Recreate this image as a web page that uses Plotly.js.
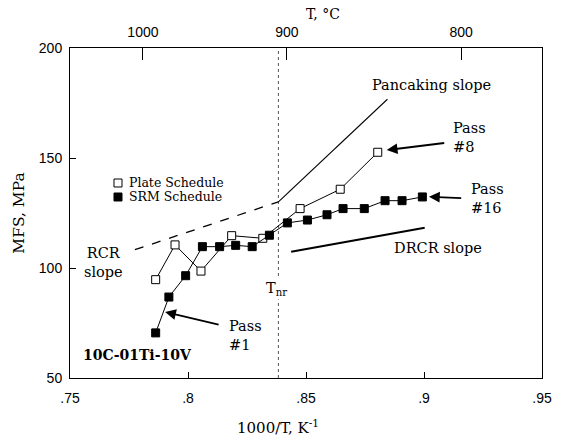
<!DOCTYPE html>
<html>
<head>
<meta charset="utf-8">
<script src="https://cdn.plot.ly/plotly-3.0.1.min.js"></script>
<style>html,body{margin:0;padding:0;background:#fff;}#chart{width:566px;height:438px;}</style>
</head>
<body>
<div id="chart"></div>
<script>
// Data
const plateX = [0.7863, 0.7945, 0.8055, 0.8185, 0.8317, 0.8475, 0.8645, 0.8804];
const plateY = [94.7, 110.5, 98.6, 114.7, 113.5, 127.0, 135.8, 152.6];
const srmX = [0.7863, 0.7919, 0.7990, 0.8061, 0.8134, 0.8202, 0.8272, 0.8345, 0.8421, 0.8506, 0.8589, 0.8657, 0.8747, 0.8835, 0.8907, 0.8993];
const srmY = [70.5, 86.8, 96.5, 109.7, 109.7, 110.3, 109.7, 114.9, 120.5, 121.8, 124.2, 127.0, 127.0, 130.6, 130.6, 132.3];
const rcrX = [0.7775, 0.8383];
const rcrY = [108.3, 130.1];
const pancX = [0.8383, 0.8845];
const pancY = [130.1, 176.7];
const drcrX = [0.8437, 0.9003];
const drcrY = [107.4, 118.3];
const tnrX = [0.8383, 0.8383];
const tnrY = [50, 200];
const bottomTickVals = [0.75, 0.8, 0.85, 0.9, 0.95];
const bottomTickText = ['.75', '.8', '.85', '.9', '.95'];
const topTickVals = [0.7809, 0.8419, 0.9157];
const topTickText = ['1000', '900', '800'];
const yTickVals = [50, 100, 150, 200];
const seriesNames = ['Plate Schedule', 'SRM Schedule'];

const serif = 'DejaVu Serif, Liberation Serif, serif';
const sans = 'Liberation Sans, Arial, sans-serif';

const traces = [
  {x: tnrX, y: tnrY, mode: 'lines', line: {color: '#555', width: 1, dash: 'dot'}, hoverinfo: 'skip'},
  {x: rcrX, y: rcrY, mode: 'lines', line: {color: '#000', width: 1.3, dash: 'dash'}},
  {x: pancX, y: pancY, mode: 'lines', line: {color: '#000', width: 1.1}},
  {x: drcrX, y: drcrY, mode: 'lines', line: {color: '#000', width: 2.2}},
  {x: plateX, y: plateY, mode: 'lines+markers', name: seriesNames[0],
   line: {color: '#000', width: 1}, marker: {symbol: 'square', size: 8, color: '#fff', line: {color: '#000', width: 1}}},
  {x: srmX, y: srmY, mode: 'lines+markers', name: seriesNames[1],
   line: {color: '#000', width: 1}, marker: {symbol: 'square', size: 8, color: '#000', line: {color: '#000', width: 1}}},
  {x: [0.8], y: [null], xaxis: 'x2', mode: 'markers', hoverinfo: 'skip'}
];

const ann = (x, y, text, opts) => Object.assign({xref: 'x', yref: 'y', x: x, y: y, text: text, showarrow: false,
  font: {family: serif, size: 14.5, color: '#000'}}, opts || {});
const pann = (x, y, text, size, opts) => Object.assign({xref: 'paper', yref: 'paper', x: x, y: y, text: text, showarrow: false,
  font: {family: serif, size: size, color: '#000'}}, opts || {});
const arrow = (x, y, ax, ay) => ({xref: 'x', yref: 'y', axref: 'x', ayref: 'y', x: x, y: y, ax: ax, ay: ay, text: '',
  showarrow: true, arrowhead: 2, arrowsize: 1.2, arrowwidth: 1.8, arrowcolor: '#000'});

const layout = {
  width: 566, height: 438,
  margin: {l: 70, r: 24, t: 48, b: 60},
  paper_bgcolor: '#fff', plot_bgcolor: '#fff',
  showlegend: false,
  xaxis: {range: [0.75, 0.95], tickvals: bottomTickVals, ticktext: bottomTickText,
    ticks: 'inside', ticklen: 6, tickcolor: '#000', showgrid: false, zeroline: false,
    showline: true, linecolor: '#000', linewidth: 1,
    tickfont: {family: sans, size: 14, color: '#000'}, ticklabelstandoff: 7},
  xaxis2: {range: [0.75, 0.95], overlaying: 'x', side: 'top', tickvals: topTickVals, ticktext: topTickText,
    ticks: 'inside', ticklen: 12, tickcolor: '#000', showgrid: false, zeroline: false,
    showline: true, linecolor: '#000', linewidth: 1,
    tickfont: {family: sans, size: 14, color: '#000'}, ticklabelstandoff: 4},
  yaxis: {range: [50, 200], tickvals: yTickVals, ticks: 'inside', ticklen: 6, tickcolor: '#000',
    showgrid: false, zeroline: false, showline: true, linecolor: '#000', linewidth: 1, mirror: true,
    tickfont: {family: sans, size: 14, color: '#000'}, ticklabelstandoff: 4},
  shapes: [
    {type: 'rect', xref: 'paper', yref: 'paper', x0: 0.0932, x1: 0.1102, y0: 0.5788, y1: 0.603,
      fillcolor: '#fff', line: {color: '#000', width: 1}},
    {type: 'rect', xref: 'paper', yref: 'paper', x0: 0.0932, x1: 0.1102, y0: 0.5364, y1: 0.5606,
      fillcolor: '#000', line: {color: '#000', width: 1}}
  ],
  annotations: [
    pann(0.1208, 0.591, seriesNames[0], 12.5, {xanchor: 'left'}),
    pann(0.1208, 0.5485, seriesNames[1], 12.5, {xanchor: 'left'}),
    pann(0.44, -0.148, '1000/T, K<sup>-1</sup>', 15, {yanchor: 'middle'}),
    pann(0.535, 1.103, 'T, °C', 14, {yanchor: 'middle'}),
    pann(-0.132, 0.5, 'MFS, MPa', 15.5, {textangle: -90}),
    ann(0.9033, 183.2, 'Pancaking slope'),
    ann(0.9060, 109.1, 'DRCR slope'),
    ann(0.8373, 90.5, 'T<sub>nr</sub>', {bgcolor: '#fff'}),
    ann(0.7640, 102.7, 'RCR<br>slope'),
    ann(0.7788, 60.5, '<b>10C-01Ti-10V</b>', {font: {family: serif, size: 14, color: '#000'}}),
    ann(0.8165, 69.1, 'Pass<br>#1', {xanchor: 'left', align: 'left'}),
    ann(0.9114, 159.5, 'Pass<br>#8', {xanchor: 'left', align: 'left'}),
    ann(0.9190, 131.8, 'Pass<br>#16', {xanchor: 'left', align: 'left'}),
    arrow(0.7903, 80.0, 0.8136, 74.1),
    arrow(0.8842, 153.6, 0.9092, 156.9),
    arrow(0.9021, 132.4, 0.9164, 131.7)
  ]
};

Plotly.newPlot('chart', traces, layout, {displayModeBar: false, staticPlot: true});
</script>
</body>
</html>
